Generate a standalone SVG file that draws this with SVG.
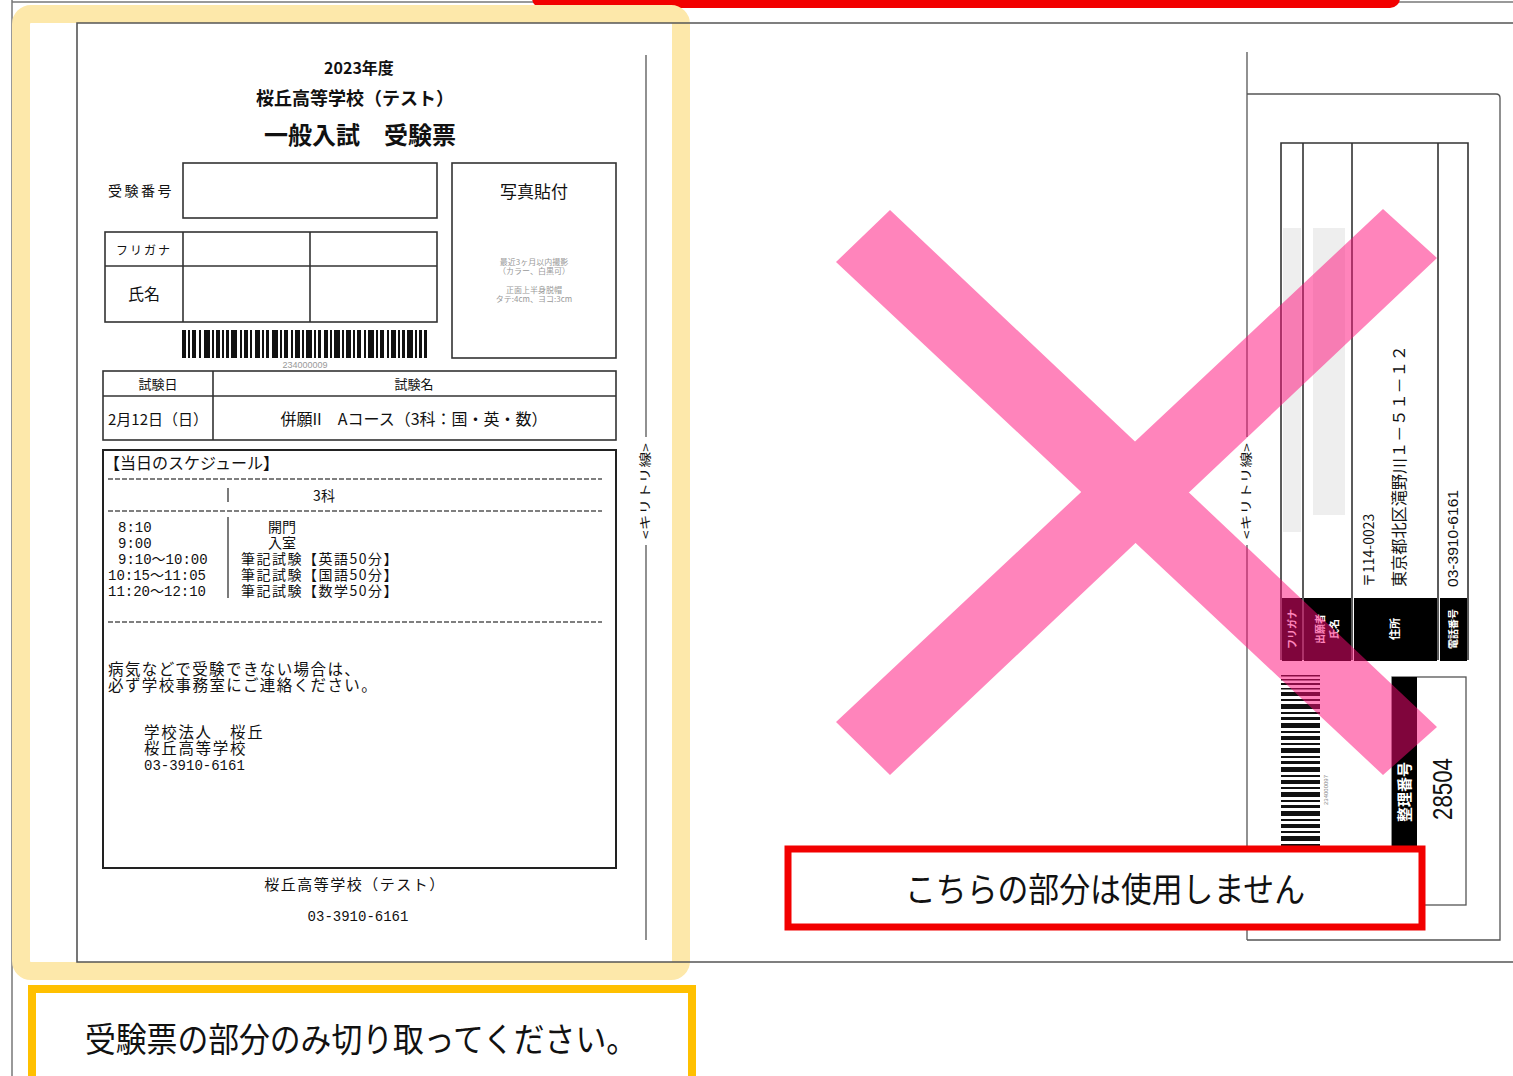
<svg xmlns="http://www.w3.org/2000/svg" width="1513" height="1076" viewBox="0 0 1513 1076">
<style>
.jp{font-family:'Noto Sans CJK JP','Noto Sans',sans-serif;fill:#111}
.mono{font-family:'Liberation Mono','Noto Sans CJK JP',monospace;fill:#111}
.ln{stroke:#333;stroke-width:1.6;fill:none}
.thin{stroke:#555;stroke-width:1.3;fill:none}
.dash{stroke:#555;stroke-width:1.5;stroke-dasharray:5 2;fill:none}
.wt{fill:#fff;font-family:'Noto Sans CJK JP',sans-serif;font-weight:bold}
</style>
<rect width="1513" height="1076" fill="#fff"/>
<!-- outer page frame -->
<g id="page-frame">
<line x1="12" y1="0" x2="12" y2="1076" stroke="#777" stroke-width="1.5"/>
<line x1="12" y1="2" x2="1513" y2="2" stroke="#777" stroke-width="1.5"/>
<rect x="532" y="-40" width="868" height="48" rx="10" fill="#F20000"/>
</g>
<!-- highlight -->
<g id="highlight">
<rect x="21" y="14" width="660" height="957" rx="10" fill="none" stroke="#FDE8AA" stroke-width="18"/>
</g>
<!-- ticket sheet -->
<g id="sheet">
<path d="M1513 23H77V962H1513" fill="none" stroke="#555" stroke-width="1.6"/>
</g>
<!-- ticket -->
<g id="ticket">
<text class="jp" x="359" y="74" font-size="16" font-weight="bold" text-anchor="middle">2023年度</text>
<text class="jp" x="355" y="105" font-size="18" font-weight="bold" text-anchor="middle">桜丘高等学校（テスト）</text>
<text class="jp" x="360" y="144" font-size="24" font-weight="bold" text-anchor="middle">一般入試　受験票</text>
<text class="jp" x="108" y="196" font-size="14" letter-spacing="2.5">受験番号</text>
<rect class="ln" x="183" y="163" width="254" height="55"/>
<rect class="ln" x="105" y="232" width="332" height="90"/>
<line class="ln" x1="105" y1="266" x2="437" y2="266"/>
<line class="ln" x1="183" y1="232" x2="183" y2="322"/>
<line class="ln" x1="310" y1="232" x2="310" y2="322"/>
<text class="jp" x="144" y="255" font-size="12" text-anchor="middle" letter-spacing="2">フリガナ</text>
<text class="jp" x="144" y="300" font-size="16" text-anchor="middle">氏名</text>
<path fill="#111" d="M182 330h4v28h-4zM188 330h2v28h-2zM192 330h4v28h-4zM199 330h2v28h-2zM204 330h6v28h-6zM212 330h2v28h-2zM216 330h4v28h-4zM222 330h2v28h-2zM226 330h3v28h-3zM231 330h6v28h-6zM240 330h2v28h-2zM244 330h4v28h-4zM250 330h2v28h-2zM255 330h5v28h-5zM262 330h2v28h-2zM266 330h3v28h-3zM272 330h6v28h-6zM280 330h2v28h-2zM284 330h4v28h-4zM291 330h2v28h-2zM295 330h5v28h-5zM302 330h2v28h-2zM306 330h6v28h-6zM314 330h2v28h-2zM318 330h3v28h-3zM324 330h4v28h-4zM330 330h2v28h-2zM334 330h6v28h-6zM342 330h2v28h-2zM346 330h5v28h-5zM353 330h2v28h-2zM357 330h4v28h-4zM364 330h2v28h-2zM368 330h6v28h-6zM376 330h2v28h-2zM380 330h4v28h-4zM387 330h2v28h-2zM391 330h5v28h-5zM398 330h2v28h-2zM402 330h3v28h-3zM407 330h6v28h-6zM415 330h2v28h-2zM419 330h3v28h-3zM424 330h3v28h-3z"/>
<text x="305" y="368" font-size="9" text-anchor="middle" fill="#999" font-family="Liberation Sans,sans-serif">234000009</text>
<rect class="ln" x="452" y="163" width="164" height="195"/>
<text class="jp" x="534" y="198" font-size="17" text-anchor="middle">写真貼付</text>
<text font-family="'Noto Sans CJK JP',sans-serif" font-size="8" fill="#999" text-anchor="middle"><tspan x="534" y="265">最近3ヶ月以内撮影</tspan><tspan x="534" y="274">（カラー、白黒可）</tspan><tspan x="534" y="293">正面上半身脱帽</tspan><tspan x="534" y="302">タテ:4cm、ヨコ:3cm</tspan></text>
<rect class="ln" x="103" y="371" width="513" height="69"/>
<line class="ln" x1="103" y1="396" x2="616" y2="396"/>
<line class="ln" x1="213" y1="371" x2="213" y2="440"/>
<text class="jp" x="158" y="389" font-size="13" text-anchor="middle">試験日</text>
<text class="jp" x="414" y="389" font-size="13" text-anchor="middle">試験名</text>
<text class="jp" x="158" y="425" font-size="15" text-anchor="middle">2月12日（日）</text>
<text class="jp" x="414" y="425" font-size="16" text-anchor="middle">併願II　Aコース（3科：国・英・数）</text>
<rect x="103" y="450" width="513" height="418" fill="none" stroke="#222" stroke-width="2"/>
<text class="jp" x="104" y="469" font-size="16">【当日のスケジュール】</text>
<line class="dash" x1="108" y1="479" x2="602" y2="479"/>
<line x1="228" y1="488" x2="228" y2="502" stroke="#333" stroke-width="1.3"/>
<text class="jp" x="324" y="501" font-size="14" text-anchor="middle">3科</text>
<line class="dash" x1="108" y1="511" x2="602" y2="511"/>
<line x1="228" y1="517" x2="228" y2="598" stroke="#333" stroke-width="1.3"/>
<text class="mono" font-size="14"><tspan x="118" y="532">8:10</tspan><tspan x="118" y="548">9:00</tspan><tspan x="118" y="564">9:10～10:00</tspan><tspan x="108" y="580">10:15～11:05</tspan><tspan x="108" y="596">11:20～12:10</tspan></text>
<text class="jp" font-size="14"><tspan x="268" y="532">開門</tspan><tspan x="268" y="548">入室</tspan><tspan x="241" y="564" letter-spacing="1.5">筆記試験【英語50分】</tspan><tspan x="241" y="580" letter-spacing="1.5">筆記試験【国語50分】</tspan><tspan x="241" y="596" letter-spacing="1.5">筆記試験【数学50分】</tspan></text>
<line class="dash" x1="108" y1="622" x2="602" y2="622"/>
<text class="jp" font-size="15.5"><tspan x="108" y="675" letter-spacing="1.4">病気などで受験できない場合は、</tspan><tspan x="108" y="691" letter-spacing="1.4">必ず学校事務室にご連絡ください。</tspan></text>
<text class="jp" font-size="15.5"><tspan x="144" y="738" letter-spacing="1.7">学校法人　桜丘</tspan><tspan x="144" y="754" letter-spacing="1.7">桜丘高等学校</tspan></text>
<text class="mono" x="144" y="770" font-size="14">03-3910-6161</text>
<text class="jp" x="355" y="890" font-size="15" text-anchor="middle" letter-spacing="1.5">桜丘高等学校（テスト）</text>
<text class="mono" x="358" y="921" font-size="14" text-anchor="middle">03-3910-6161</text>
</g>
<!-- cut lines -->
<g id="cut-left">
<line class="thin" x1="646" y1="55" x2="646" y2="437"/>
<line class="thin" x1="646" y1="545" x2="646" y2="940"/>
<text class="jp" font-size="12" text-anchor="middle" transform="translate(650,491) rotate(-90)" fill="#333" textLength="96" lengthAdjust="spacingAndGlyphs">&lt;キリトリ線&gt;</text>
</g>
<g id="cut-right">
<line class="thin" x1="1247" y1="52" x2="1247" y2="437"/>
<line class="thin" x1="1247" y1="545" x2="1247" y2="940"/>
<text class="jp" font-size="12" text-anchor="middle" transform="translate(1251,491) rotate(-90)" fill="#333" textLength="96" lengthAdjust="spacingAndGlyphs">&lt;キリトリ線&gt;</text>
</g>
<!-- envelope -->
<g id="envelope">
<path d="M1247 94H1496Q1500 94 1500 98V940H1247" class="thin"/>
<rect x="1283" y="228" width="18" height="304" fill="#eee"/>
<rect x="1313" y="228" width="32" height="287" fill="#eee"/>
<path class="ln" d="M1281 660V143H1468V660M1303 143V660M1352 143V660M1438 143V660"/>
<rect x="1282" y="598" width="20" height="63" fill="#000"/>
<rect x="1304" y="598" width="47" height="63" fill="#000"/>
<rect x="1354" y="598" width="83" height="63" fill="#000"/>
<rect x="1440" y="598" width="27" height="63" fill="#000"/>
<text class="wt" font-size="10" text-anchor="middle" transform="translate(1296,629) rotate(-90)">フリガナ</text>
<text class="wt" font-size="10" text-anchor="middle" transform="translate(1324,629) rotate(-90)">出願者</text>
<text class="wt" font-size="10" text-anchor="middle" transform="translate(1338,629) rotate(-90)">氏名</text>
<text class="wt" font-size="11" text-anchor="middle" transform="translate(1399,629) rotate(-90)">住所</text>
<text class="wt" font-size="10" text-anchor="middle" transform="translate(1457,629) rotate(-90)">電話番号</text>
<text class="jp" font-size="14" transform="translate(1374,587) rotate(-90)">〒114-0023</text>
<text class="jp" font-size="16" transform="translate(1405,587) rotate(-90)" textLength="242" lengthAdjust="spacingAndGlyphs">東京都北区滝野川１－５１－１２</text>
<text font-family="Liberation Sans,sans-serif" fill="#111" font-size="14" transform="translate(1458,587) rotate(-90)" textLength="97" lengthAdjust="spacingAndGlyphs">03-3910-6161</text>
<path fill="#111" d="M1281 675h39v1.5h-39zM1281 679h39v1.5h-39zM1281 683h39v2h-39zM1281 688h39v1.5h-39zM1281 692h39v4h-39zM1281 699h39v2h-39zM1281 704h39v5h-39zM1281 712h39v2h-39zM1281 717h39v3h-39zM1281 723h39v5h-39zM1281 731h39v2h-39zM1281 736h39v4h-39zM1281 743h39v2h-39zM1281 748h39v5h-39zM1281 756h39v2h-39zM1281 761h39v3h-39zM1281 767h39v5h-39zM1281 775h39v2h-39zM1281 780h39v4h-39zM1281 787h39v2h-39zM1281 792h39v5h-39zM1281 800h39v2h-39zM1281 805h39v3h-39zM1281 811h39v5h-39zM1281 819h39v2h-39zM1281 824h39v4h-39zM1281 831h39v2h-39zM1281 836h39v5h-39zM1281 844h39v4h-39z"/>
<text font-family="Liberation Sans,sans-serif" font-size="6" fill="#888" text-anchor="middle" transform="translate(1328,790) rotate(-90)">234000097</text>
<rect class="thin" x="1392" y="677" width="74" height="228"/>
<rect x="1392" y="677" width="25" height="200" fill="#000"/>
<text class="wt" font-size="15" text-anchor="middle" transform="translate(1410,792) rotate(-90)">整理番号</text>
<text font-family="Liberation Sans,sans-serif" fill="#111" font-size="27" text-anchor="middle" transform="translate(1452,789) rotate(-90)" textLength="62" lengthAdjust="spacingAndGlyphs">28504</text>
</g>
<!-- pink X -->
<g id="cross" opacity="0.5" fill="#FF0A78">
<path d="M890 210L1437 727L1383 775L836 262ZM836 722L1383 209L1437 258L890 775Z"/>
</g>
<!-- labels -->
<g id="label-unused">
<rect x="788" y="849" width="634" height="78" fill="#fff" stroke="#F20000" stroke-width="7"/>
<text class="jp" x="1105" y="902" font-size="34" text-anchor="middle" textLength="400" lengthAdjust="spacingAndGlyphs">こちらの部分は使用しません</text>
</g>
<g id="label-cut">
<rect x="32" y="989" width="660" height="100" fill="#fff" stroke="#FFC000" stroke-width="8"/>
<text class="jp" x="361" y="1052" font-size="34" text-anchor="middle" textLength="552" lengthAdjust="spacingAndGlyphs">受験票の部分のみ切り取ってください。</text>
</g>
</svg>
